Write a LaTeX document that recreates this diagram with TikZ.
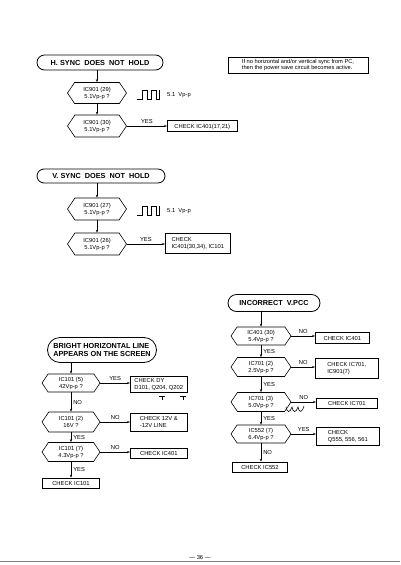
\documentclass[tikz,border=0pt]{standalone}
\usepackage{fontspec}
\setmainfont{Liberation Sans}
\usetikzlibrary{shapes.misc,shapes.symbols,arrows.meta}

\begin{document}
\begin{tikzpicture}[x=1pt, y=-1pt,
  term/.style={draw, rounded rectangle, line width=0.8pt, inner sep=0pt, align=left, font={\bfseries\fontsize{7.3}{8.8}\selectfont}},
  ask/.style={draw, signal, signal to=west and east, signal pointer angle=112, line width=0.6pt, inner sep=0pt, align=center, font={\fontsize{5.8}{7}\selectfont}},
  chk/.style={draw, anchor=west, line width=0.6pt, inner sep=0pt, inner xsep=3.5pt, align=left, text depth=0pt, font={\fontsize{5.8}{7}\selectfont}},
  lbl/.style={inner sep=0pt, font={\fontsize{5.8}{6.5}\selectfont}},
  flow/.style={line width=0.6pt, -{Stealth[length=3pt, width=2.2pt]}}]
\useasboundingbox (0,0) rectangle (400,565);

% H. sync
\node[term, minimum width=126pt, minimum height=15pt] (hsync) at (100,62.5) {H. SYNC\ \ DOES\ \ NOT\ \ HOLD};
\node[ask, minimum width=59pt, minimum height=21pt] (h1) at (97,93) {IC901 (29)\\5.1Vp-p ?};
\node[ask, minimum width=59pt, minimum height=22pt] (h2) at (97,126) {IC901 (30)\\5.1Vp-p ?};
\node[chk, minimum width=70pt, minimum height=11pt] (hchk) at (167,126) {CHECK IC401(17,21)};
\draw[flow] (h1 |- hsync.south) -- (h1.north);
\draw[flow] (h1.south) -- (h2.north);
\draw[flow] (h2.east) -- node[lbl, above=2pt] (hyes) {YES} (hchk.west);
\draw[line width=0.6pt] (137,99) -- ++(5,0) -- ++(0,-9) -- ++(5,0) -- ++(0,9) -- ++(4,0) -- ++(0,-9) -- ++(5,0) -- ++(0,9) -- ++(3,0) -- ++(0,-9);
\node[lbl, anchor=west] (hwave) at (167,95) {5.1\ \ Vp-p};

% note
\node[draw, line width=0.6pt, minimum width=140pt, minimum height=16pt, inner sep=0pt, align=left, font={\fontsize{5.7}{6.8}\selectfont}] (note) at (298,65) {If no horizontal and/or vertical sync from PC,\\then the power save circuit becomes active.};

% V. sync
\node[term, minimum width=128pt, minimum height=14pt] (vsync) at (101,176) {V. SYNC\ \ DOES\ \ NOT\ \ HOLD};
\node[ask, minimum width=59pt, minimum height=22pt] (v1) at (97,209) {IC901 (27)\\5.1Vp-p ?};
\node[ask, minimum width=59pt, minimum height=22pt] (v2) at (97,244) {IC901 (26)\\5.1Vp-p ?};
\node[chk, minimum width=65pt, minimum height=20pt] (vchk) at (165,243) {CHECK\\IC401(30,34), IC101};
\draw[flow] (v1 |- vsync.south) -- (v1.north);
\draw[flow] (v1.south) -- (v2.north);
\draw[flow] (v2.east) -- node[lbl, above=2pt] (vyes) {YES} (v2.east -| vchk.west);
\draw[line width=0.6pt] (137,215) -- ++(5,0) -- ++(0,-9) -- ++(5,0) -- ++(0,9) -- ++(4,0) -- ++(0,-9) -- ++(5,0) -- ++(0,9) -- ++(3,0) -- ++(0,-9);
\node[lbl, anchor=west] (vwave) at (167,211) {5.1\ \ Vp-p};

% bright line
\node[term, minimum width=125pt, minimum height=25pt, inner xsep=8pt] (bright) at (102,350) {BRIGHT HORIZONTAL LINE\\APPEARS ON THE SCREEN};
\node[ask, minimum width=58pt, minimum height=18pt] (b1) at (71,383) {IC101 (5)\\42Vp-p ?};
\node[ask, minimum width=58pt, minimum height=20pt] (b2) at (71,422) {IC101 (2)\\16V ?};
\node[ask, minimum width=58pt, minimum height=19pt] (b3) at (71,452) {IC101 (7)\\4.3Vp-p ?};
\node[chk, minimum width=57pt, minimum height=16pt] (bchk1) at (130,384) {CHECK DY\\D101, Q204, Q202};
\node[chk, minimum width=57pt, minimum height=18pt] (bchk2) at (130,422) {CHECK 12V \&\\-12V LINE};
\node[chk, minimum width=57pt, minimum height=10pt] (bchk3) at (130,453) {CHECK IC401};
\node[chk, anchor=center, minimum width=57pt, minimum height=10pt] (bchk4) at (71,483) {CHECK IC101};
\draw[flow] (b1 |- bright.south) -- (b1.north);
\draw[flow] (b1.south) -- node[lbl, right=2pt] (bno1) {NO} (b2.north);
\draw[flow] (b2.south) -- node[lbl, right=2pt] (byes2) {YES} (b3.north);
\draw[flow] (b3.south) -- node[lbl, right=2pt] (byes3) {YES} (bchk4.north);
\draw[flow] (b1.east) -- node[lbl, above=2pt] (byes1) {YES} (b1.east -| bchk1.west);
\draw[flow] (b2.east) -- node[lbl, above=2pt] (bno2) {NO} (b2.east -| bchk2.west);
\draw[flow] (b3.east) -- node[lbl, above=2pt] (bno3) {NO} (b3.east -| bchk3.west);
\draw[line width=0.6pt] (159,396) -- (165,396) (162,396) -- (162,400);
\draw[line width=0.6pt] (180,396) -- (186,396) (183,396) -- (183,400);

% incorrect v.pcc
\node[term, minimum width=92pt, minimum height=17pt] (vpcc) at (274,303) {INCORRECT\ \ V.PCC};
\node[ask, minimum width=60pt, minimum height=18pt] (p1) at (261,336) {IC401 (30)\\5.4Vp-p ?};
\node[ask, minimum width=60pt, minimum height=19pt] (p2) at (261,367) {IC701 (2)\\2.5Vp-p ?};
\node[ask, minimum width=60pt, minimum height=19pt] (p3) at (261,402) {IC701 (3)\\5.0Vp-p ?};
\node[ask, minimum width=60pt, minimum height=18pt] (p4) at (261,434) {IC552 (7)\\6.4Vp-p ?};
\node[chk, minimum width=54pt, minimum height=11pt] (pchk1) at (315,338) {CHECK IC401};
\node[chk, minimum width=63pt, minimum height=20pt] (pchk2) at (315,368) {CHECK IC701,\\IC901(7)};
\node[chk, minimum width=61pt, minimum height=10pt] (pchk3) at (316,403) {CHECK IC701};
\node[chk, minimum width=63pt, minimum height=18pt] (pchk4) at (316,436) {CHECK\\Q555, 556, 561};
\node[chk, anchor=center, minimum width=55pt, minimum height=10pt] (pchk5) at (260,467) {CHECK IC552};
\draw[flow] (p1 |- vpcc.south) -- (p1.north);
\draw[flow] (p1.south) -- node[lbl, right=2pt] (pyes1) {YES} (p2.north);
\draw[flow] (p2.south) -- node[lbl, right=2pt] (pyes2) {YES} (p3.north);
\draw[flow] (p3.south) -- node[lbl, right=2pt] (pyes3) {YES} (p4.north);
\draw[flow] (p4.south) -- node[lbl, right=2pt] (pno4) {NO} (p4.south |- pchk5.north);
\draw[flow] (p1.east) -- node[lbl, above=2pt] (pno1) {NO} (p1.east -| pchk1.west);
\draw[flow] (p2.east) -- node[lbl, above=2pt] (pno2) {NO} (p2.east -| pchk2.west);
\draw[flow] (p3.east) -- node[lbl, above=2pt] (pno3) {NO} (p3.east -| pchk3.west);
\draw[flow] (p4.east) -- node[lbl, above=2pt] (pyes4) {YES} (p4.east -| pchk4.west);
\draw[line width=0.6pt] (286,407) .. controls (287,413) and (290,413) .. (292,407) .. controls (293,413) and (296,413) .. (298,407) .. controls (299,413) and (302,413) .. (304,406);

% page
\node[lbl] (page) at (200,557) {--- 36 ---};
\draw[gray, line width=0.6pt] (0,561) -- (400,561);
\end{tikzpicture}
\end{document}
